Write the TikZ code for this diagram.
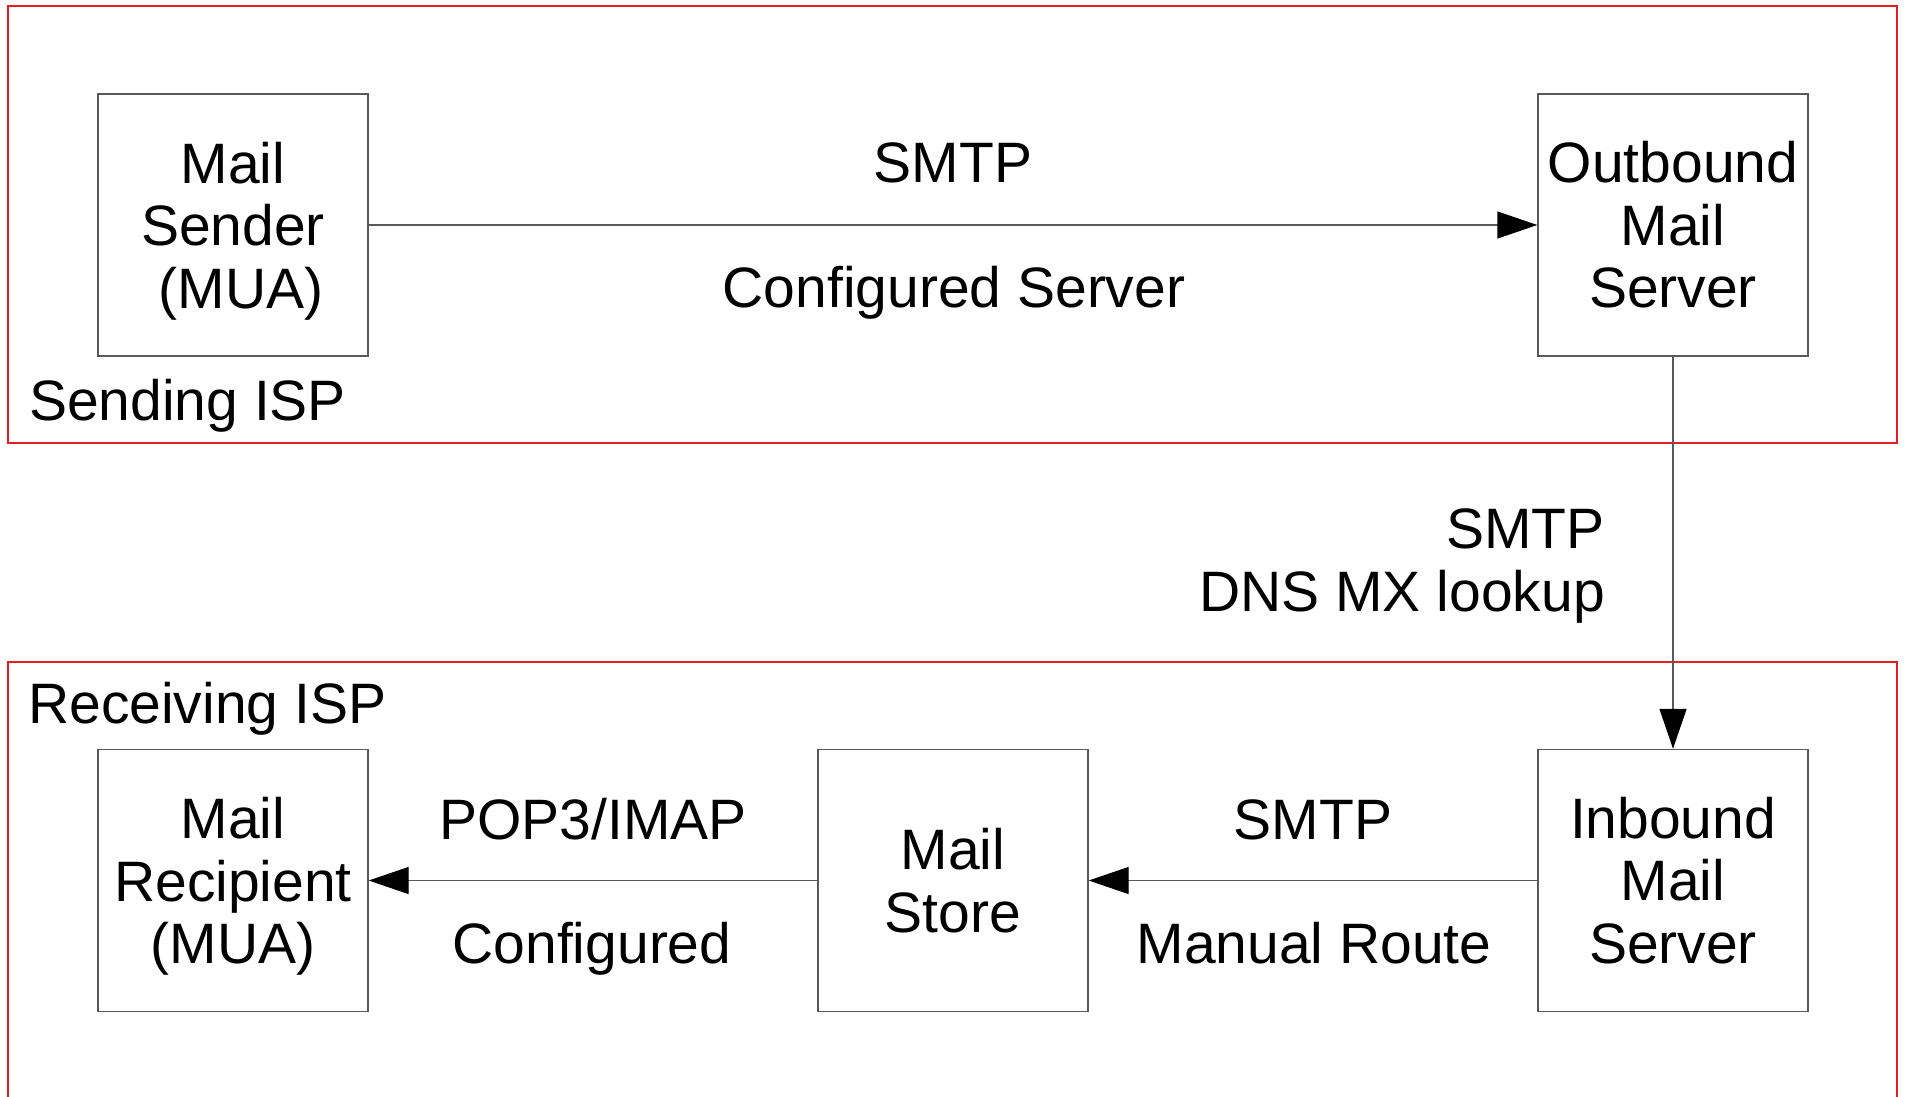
\documentclass[tikz,border=0pt]{standalone}
\usepackage{fontspec}
\setmainfont{Liberation Sans}
\usetikzlibrary{arrows.meta}
\tikzset{
  bigtext/.style={font=\fontsize{57}{62.5}\selectfont},
  ispbox/.style={draw={rgb,255:red,230;green,30;blue,36}, line width=1.3pt},
  serverbox/.style={draw=black!65, line width=1.4pt, minimum width=270pt, minimum height=262pt, inner sep=0pt, align=center, bigtext},
  conn/.style={draw=black!65, line width=1.4pt, -{Triangle[length=40pt,width=27pt,color=black]}},
  lbl/.style={inner sep=0pt, bigtext}
}
\begin{document}
\begin{tikzpicture}[x=1pt,y=-1pt]
\useasboundingbox (0,0) rectangle (1905,1096);
\clip (0,0) rectangle (1905,1096);
\fill[white] (0,0) rectangle (1905,1096);
% ISP frames
\draw[ispbox] (8,6) rectangle (1897,443);
\draw[ispbox] (8,662) rectangle (1897,1120);
\node[lbl, anchor=base west] (sendisp) at (29,420) {Sending ISP};
\node[lbl, anchor=base west] (recvisp) at (28,723) {Receiving ISP};
% servers
\node[serverbox] (sender) at (233,225) {Mail\\Sender\\\smash{\hspace*{0.278em}(MUA)}};
\node[serverbox] (outbound) at (1673,225) {Outbound\\Mail\\Server};
\node[serverbox] (recipient) at (233,880.5) {Mail\\Recipient\\\smash{(MUA)}};
\node[serverbox] (store) at (953,880.5) {Mail\\Store};
\node[serverbox] (inbound) at (1673,880.5) {Inbound\\Mail\\Server};
% connectors
\draw[conn] (sender.east) -- (outbound.west);
\draw[conn] (outbound.south) -- (inbound.north);
\draw[conn] (inbound.west) -- (store.east);
\draw[conn] (store.west) -- (recipient.east);
% labels
\node[lbl, anchor=base] (l1a) at (953,182) {SMTP};
\node[lbl, anchor=base] (l1b) at (954,307) {Configured Server};
\node[lbl, anchor=east, align=right] (l2) at (1605,566) {SMTP\\DNS MX lookup};
\node[lbl, anchor=base] (l3a) at (1313,839) {SMTP};
\node[lbl, anchor=base] (l3b) at (1314,963) {Manual Route};
\node[lbl, anchor=base] (l4a) at (593,839) {POP3/IMAP};
\node[lbl, anchor=base] (l4b) at (592,963) {Configured};
\end{tikzpicture}
\end{document}
